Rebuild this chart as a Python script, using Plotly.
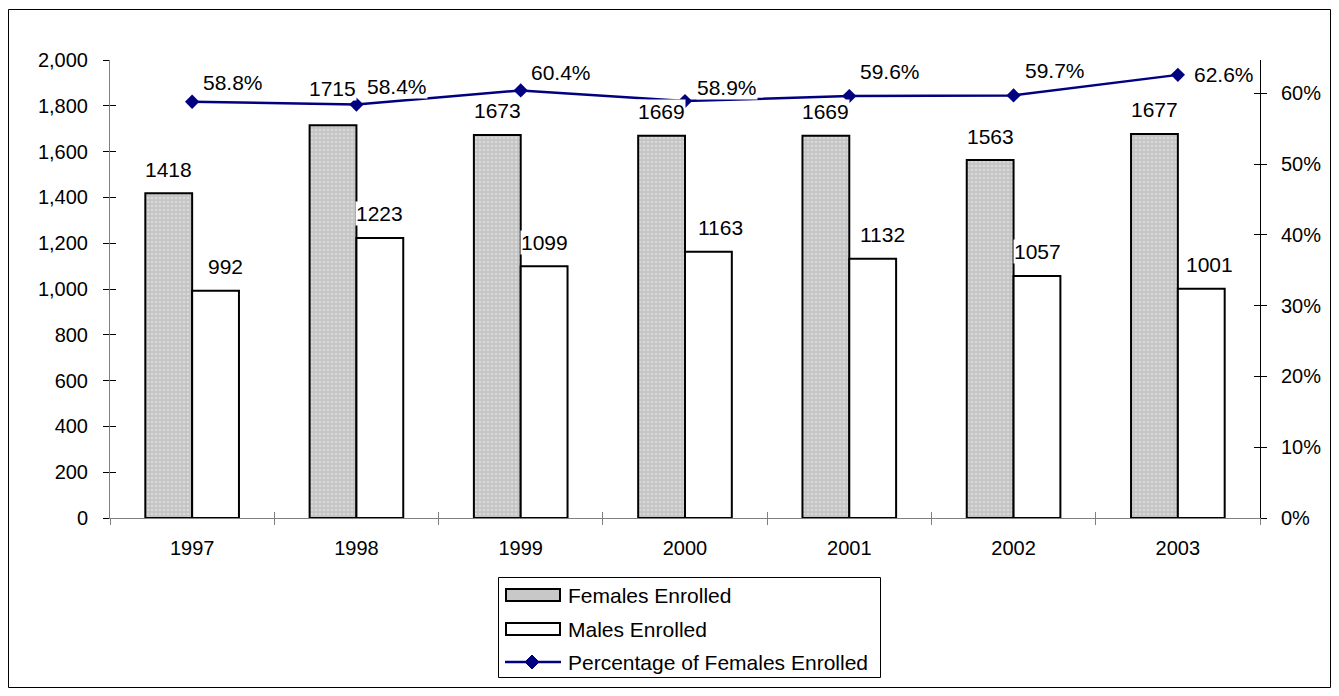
import plotly.graph_objects as go

# ---- data ----
years = ["1997", "1998", "1999", "2000", "2001", "2002", "2003"]
females = [1418, 1715, 1673, 1669, 1669, 1563, 1677]
males = [992, 1223, 1099, 1163, 1132, 1057, 1001]
pct_female = [0.588, 0.584, 0.604, 0.589, 0.596, 0.597, 0.626]
pct_labels = ["58.8%", "58.4%", "60.4%", "58.9%", "59.6%", "59.7%", "62.6%"]
legend_names = ["Females Enrolled", "Males Enrolled", "Percentage of Females Enrolled"]

# ---- label placement (pixel offsets, style only) ----
fem_dy = [24, 37, 24, 24, 24, 24, 24]
male_dx = [10, 0, 0, 12, 10, 0, 8]
male_dy = [24, 24, 24, 24, 24, 24, 24]
pct_dx = [41, 41, 40, 42, 41, 41, 46]
pct_dy = [19, 18, 18, 14, 25, 25, 0]

FONT = "Liberation Sans, Arial, sans-serif"
FS_TICK = 20
FS_LAB = 21
W, H = 1323, 680
L, R, T, B = 102, 71, 52, 170
PW, PH = W - L - R, H - T - B
OFF = 8  # page body margin
BAR_HALF = 23.5


def px(sx):
    return (sx - OFF - L) / PW


def py(sy):
    return (H - B - (sy - OFF)) / PH


fig = go.Figure()
fig.add_trace(go.Bar(
    x=years, y=females, name=legend_names[0], showlegend=False,
    marker=dict(color="#c4c4c4", line=dict(color="black", width=2),
                pattern=dict(shape=".", fgcolor="#ededed", bgcolor="#c4c4c4", size=4, solidity=0.35)),
))
fig.add_trace(go.Bar(
    x=years, y=males, name=legend_names[1], showlegend=False,
    marker=dict(color="white", line=dict(color="black", width=2)),
))
fig.add_trace(go.Scatter(
    x=years, y=pct_female, name=legend_names[2], yaxis="y2", showlegend=False,
    mode="lines+markers", line=dict(color="#000080", width=2.5),
    marker=dict(symbol="diamond", size=11, color="#000080"),
))
# empty traces that carry the inner half of the crossing tick marks
fig.add_trace(go.Scatter(x=years, y=[None] * len(years), xaxis="x2", yaxis="y3",
                         showlegend=False, hoverinfo="skip"))
fig.add_trace(go.Scatter(x=years, y=[None] * len(years), xaxis="x2", yaxis="y4",
                         showlegend=False, hoverinfo="skip"))

lab_font = dict(size=FS_LAB, family=FONT, color="black")
annotations = []
for i, v in enumerate(females):
    annotations.append(dict(x=i, y=v, xref="x", yref="y", text=str(v), showarrow=False,
                            xshift=-BAR_HALF, yshift=fem_dy[i], yanchor="middle",
                            bgcolor="white", borderpad=0, font=lab_font))
for i, v in enumerate(males):
    annotations.append(dict(x=i, y=v, xref="x", yref="y", text=str(v), showarrow=False,
                            xshift=BAR_HALF + male_dx[i], yshift=male_dy[i], yanchor="middle",
                            bgcolor="white", borderpad=0, font=lab_font))
for i, (v, t) in enumerate(zip(pct_female, pct_labels)):
    annotations.append(dict(x=i, y=v, xref="x", yref="y2", text=t, showarrow=False,
                            xshift=pct_dx[i], yshift=pct_dy[i], yanchor="middle",
                            bgcolor="white", borderpad=0, font=lab_font))

# manual legend
leg_rows = [595, 629, 662]
for name, yy in zip(legend_names, leg_rows):
    annotations.append(dict(x=px(566), y=py(yy), xref="paper", yref="paper", text=name,
                            showarrow=False, xanchor="left", yanchor="middle",
                            font=dict(size=FS_LAB, family=FONT, color="black")))

shapes = [
    dict(type="rect", xref="paper", yref="paper", x0=px(8.5), x1=px(1330.5), y0=py(687.5), y1=py(9.5),
         line=dict(color="black", width=1), layer="below"),
    dict(type="rect", xref="paper", yref="paper", x0=px(498.5), x1=px(880.5), y0=py(677.5), y1=py(577.5),
         line=dict(color="black", width=1), fillcolor="white", layer="below"),
    dict(type="rect", xref="paper", yref="paper", x0=px(506), x1=px(560), y0=py(601), y1=py(589),
         line=dict(color="black", width=2), fillcolor="#c8c8c8"),
    dict(type="rect", xref="paper", yref="paper", x0=px(506), x1=px(560), y0=py(635), y1=py(623),
         line=dict(color="black", width=2), fillcolor="white"),
    dict(type="line", xref="paper", yref="paper", x0=px(505), x1=px(561), y0=py(662), y1=py(662),
         line=dict(color="#000080", width=2.5)),
    dict(type="path", xref="paper", yref="paper",
         path=f"M {px(532)},{py(655)} L {px(539)},{py(662)} L {px(532)},{py(669)} L {px(525)},{py(662)} Z",
         fillcolor="#000080", line=dict(color="#000080", width=1)),
]

tickfont = dict(size=FS_TICK, family=FONT, color="black")
fig.update_layout(
    width=W, height=H,
    margin=dict(l=L, r=R, t=T, b=B, autoexpand=False),
    paper_bgcolor="white", plot_bgcolor="white",
    font=dict(family=FONT, size=FS_TICK, color="black"),
    barmode="group", bargap=0.43, bargroupgap=0,
    showlegend=False,
    xaxis=dict(type="category", range=[-0.5, 6.5], showline=True, linecolor="#808080", linewidth=1,
               ticks="outside", tickson="boundaries", ticklen=6, tickcolor="#808080",
               showgrid=False, zeroline=False, tickfont=tickfont, tickangle=0,
               ticklabelstandoff=12, automargin=False),
    xaxis2=dict(type="category", range=[-0.5, 6.5], overlaying="x", showline=False,
                ticks="inside", tickson="boundaries", ticklen=6, tickcolor="#808080",
                showticklabels=False, showgrid=False, zeroline=False, automargin=False),
    yaxis=dict(range=[0, 2000], tickvals=list(range(0, 2001, 200)), tickformat=",",
               showline=True, linecolor="#808080", linewidth=1, ticks="outside",
               ticklen=6, tickcolor="black", showgrid=False, zeroline=False,
               tickfont=tickfont, ticklabelstandoff=11, automargin=False),
    yaxis2=dict(range=[0, 0.647], overlaying="y", side="right", tickformat=".0%",
                tickvals=[0, 0.1, 0.2, 0.3, 0.4, 0.5, 0.6],
                showline=True, linecolor="black", linewidth=1, ticks="outside",
                ticklen=6, tickcolor="black", showgrid=False, zeroline=False,
                tickfont=tickfont, ticklabelstandoff=10, automargin=False),
    yaxis3=dict(range=[0, 2000], tickvals=list(range(0, 2001, 200)), overlaying="y", side="left",
                ticks="inside", ticklen=6, tickcolor="black", showticklabels=False,
                showline=False, showgrid=False, zeroline=False, automargin=False),
    yaxis4=dict(range=[0, 0.647], tickvals=[0, 0.1, 0.2, 0.3, 0.4, 0.5, 0.6], overlaying="y",
                side="right", ticks="inside", ticklen=6, tickcolor="black", showticklabels=False,
                showline=False, showgrid=False, zeroline=False, automargin=False),
    annotations=annotations,
    shapes=shapes,
)

fig.write_html("out.html")
